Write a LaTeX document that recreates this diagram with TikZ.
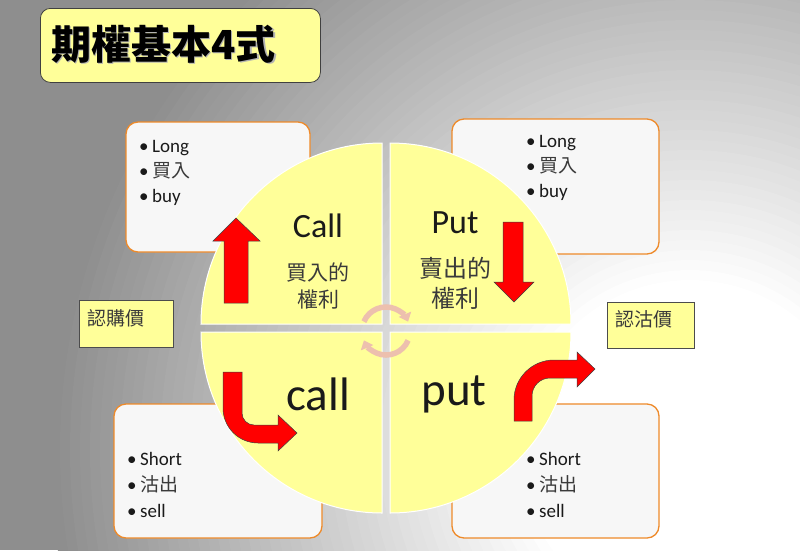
\documentclass[tikz,border=0pt]{standalone}
\usepackage{fontspec}
\setmainfont{Carlito}
\newfontfamily\cjk{Noto Sans CJK TC}
\usetikzlibrary{arrows.meta}
\definecolor{bggray}{HTML}{8E8E8E}
\definecolor{qyellow}{HTML}{FFFF99}
\definecolor{boxorange}{HTML}{EE8A2A}
\definecolor{cycsalmon}{HTML}{EDC0AE}
\definecolor{arrred}{HTML}{FF0000}
\definecolor{txtdark}{HTML}{1A1A1A}
\definecolor{zhgray}{HTML}{3A3A3A}
\newcommand\bulitem[1]{\makebox[13pt][l]{\textbullet}#1}
\begin{document}
\begin{tikzpicture}[x=1pt,y=-1pt,
  listtxt/.style={anchor=base west, inner sep=0pt, text=txtdark, font=\fontsize{19}{23}\selectfont},
  orangebox/.style={draw=boxorange, line width=1.3pt, rounded corners=12pt, fill=black!3},
  lblbox/.style={draw=black!70, line width=0.8pt, fill=qyellow, anchor=north west, inner sep=0pt},
  lbltxt/.style={anchor=west, inner sep=0pt, text=zhgray, font=\fontsize{19}{23}\selectfont\cjk},
  quad/.style={fill=qyellow, draw=white, line width=1pt},
  redarrow/.style={fill=arrred, draw=black!75, line width=0.5pt, line join=miter},
  cyc/.style={draw=cycsalmon, line width=5.5pt, -{Triangle[width=13pt,length=8pt]}},
  entxt/.style={anchor=base, inner sep=0pt, text=txtdark},
  zhtxt/.style={inner sep=0pt, text=zhgray}]
\useasboundingbox (0,0) rectangle (800,550);
% background
\begin{scope}
\clip (0,0) rectangle (800,550);
\fill[bggray] (0,0) rectangle (800,550);
\foreach \i in {0,...,47}{
  \pgfmathsetmacro\rr{640-\i*10}
  \pgfmathsetmacro\pp{\i/47*100}
  \fill[white!\pp!bggray] (690,450) circle (\rr);
}
\end{scope}
% title
\node[draw=black!75, line width=0.8pt, fill=qyellow, rounded corners=10pt, anchor=north west,
      minimum width=280pt, minimum height=74pt, inner sep=0pt] (titlebox) at (40,8) {};
\node[anchor=west, inner sep=0pt, text=black!30, font=\fontsize{40}{44}\selectfont\cjk\bfseries] (titleshadow) at (52.5,45.5) {期權基本4式};
\node[anchor=west, inner sep=0pt, text=black, font=\fontsize{40}{44}\selectfont\cjk\bfseries] (title) at (51,44) {期權基本4式};
% orange list boxes
\draw[orangebox] (126,122) rectangle (310,252);
\draw[orangebox] (452,119) rectangle (659,254);
\draw[orangebox] (114,404) rectangle (322,538);
\draw[orangebox] (452,404) rectangle (659,538);
% lists
\node[listtxt] (tla) at (139,152) {\bulitem{Long}};
\node[listtxt] (tlb) at (139,177) {\bulitem{{\cjk\color{zhgray}買入}}};
\node[listtxt] (tlc) at (139,202) {\bulitem{buy}};
\node[listtxt] (tra) at (526,147) {\bulitem{Long}};
\node[listtxt] (trb) at (526,172) {\bulitem{{\cjk\color{zhgray}買入}}};
\node[listtxt] (trc) at (526,197) {\bulitem{buy}};
\node[listtxt] (bla) at (127,465) {\bulitem{Short}};
\node[listtxt] (blb) at (127,491) {\bulitem{{\cjk\color{zhgray}沽出}}};
\node[listtxt] (blc) at (127,517) {\bulitem{sell}};
\node[listtxt] (bra) at (526,465) {\bulitem{Short}};
\node[listtxt] (brb) at (526,491) {\bulitem{{\cjk\color{zhgray}沽出}}};
\node[listtxt] (brc) at (526,517) {\bulitem{sell}};
% label boxes
\node[lblbox, minimum width=94pt, minimum height=47pt] (lblcall) at (79,300) {};
\node[lbltxt] (lblcalltxt) at (87,318) {認購價};
\node[lblbox, minimum width=87pt, minimum height=46pt] (lblput) at (607,302) {};
\node[lbltxt] (lblputtxt) at (615,319) {認沽價};
% quadrants
\draw[quad] (382,324) -- ++(180:181) arc[start angle=180, end angle=270, radius=181] -- cycle;
\draw[quad] (390,324) -- ++(270:181) arc[start angle=270, end angle=360, radius=181] -- cycle;
\draw[quad] (390,332) -- ++(0:181) arc[start angle=0, end angle=90, radius=181] -- cycle;
\draw[quad] (382,332) -- ++(90:181) arc[start angle=90, end angle=180, radius=181] -- cycle;
% cycle arrows
\draw[cyc] (386,331) ++(203:24) arc[start angle=203, end angle=337, radius=24];
\draw[cyc] (386,331) ++(23:24) arc[start angle=23, end angle=157, radius=24];
% quadrant texts
\node[entxt, font=\fontsize{34}{38}\selectfont] (qcall) at (318,237) {Call};
\node[zhtxt, font=\fontsize{21}{24}\selectfont\cjk] (qcallzha) at (318,273) {買入的};
\node[zhtxt, font=\fontsize{21}{24}\selectfont\cjk] (qcallzhb) at (318,300) {權利};
\node[entxt, font=\fontsize{34}{38}\selectfont] (qput) at (455,233) {Put};
\node[zhtxt, font=\fontsize{24}{28}\selectfont\cjk] (qputzha) at (455,268) {賣出的};
\node[zhtxt, font=\fontsize{24}{28}\selectfont\cjk] (qputzhb) at (455,298) {權利};
\node[entxt, font=\fontsize{47}{50}\selectfont] (qcallsm) at (318,410) {call};
\node[entxt, font=\fontsize{47}{50}\selectfont] (qputsm) at (454,405) {put};
% red arrows
\draw[redarrow] (224,303) -- (224,241) -- (213,241) -- (236,218) -- (260,241) -- (248,241) -- (248,303) -- cycle;
\draw[redarrow] (503,222) -- (523,222) -- (523,282) -- (534,282) -- (514,302) -- (494,282) -- (503,282) -- cycle;
\draw[redarrow] (223,372) -- (223,408) arc[start angle=180, end angle=90, radius=35]
  -- (278,443) -- (278,451) -- (297,433) -- (278,415) -- (278,425) -- (254,425)
  arc[start angle=90, end angle=180, radius=12] -- (242,372) -- cycle;
\draw[redarrow] (514,421) -- (514,400) arc[start angle=180, end angle=270, radius=40]
  -- (577,360) -- (577,352) -- (595,369) -- (577,387) -- (577,378) -- (550,378)
  arc[start angle=270, end angle=180, radius=18] -- (532,421) -- cycle;
\end{tikzpicture}
\end{document}
